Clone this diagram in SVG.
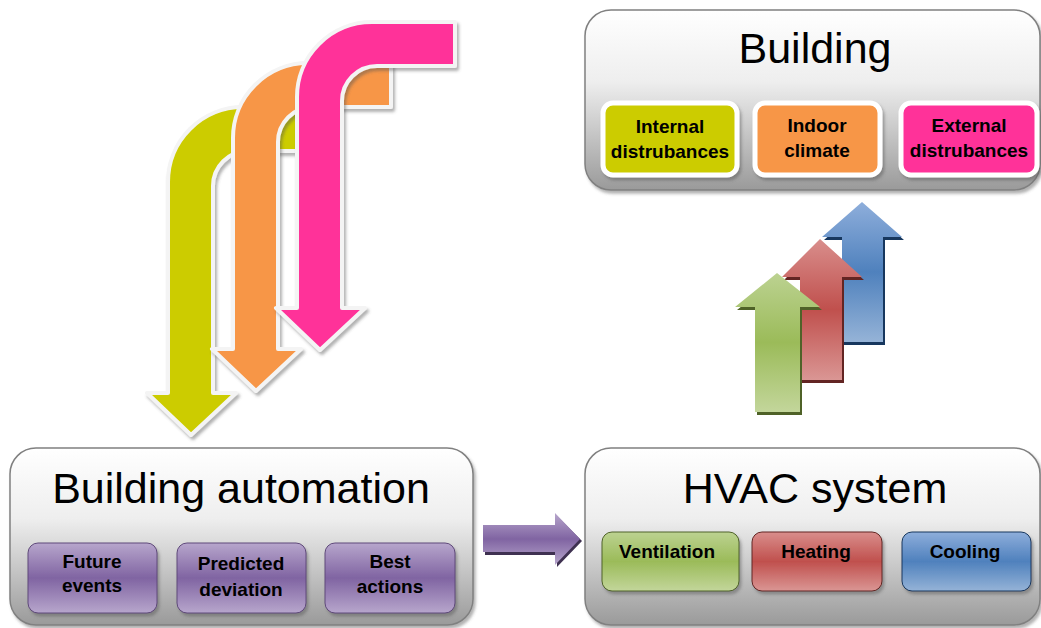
<svg xmlns="http://www.w3.org/2000/svg" width="1041" height="628" viewBox="0 0 1041 628">
  <defs>
    <linearGradient id="panel" x1="0" y1="0" x2="0" y2="1">
      <stop offset="0" stop-color="#ffffff"/>
      <stop offset="0.4" stop-color="#eeeeee"/>
      <stop offset="1" stop-color="#9a9a9a"/>
    </linearGradient>
    <linearGradient id="purple" x1="0" y1="0" x2="0" y2="1">
      <stop offset="0" stop-color="#b7a6cc"/>
      <stop offset="0.5" stop-color="#8064a2"/>
      <stop offset="1" stop-color="#b7a6cc"/>
    </linearGradient>
    <linearGradient id="green" x1="0" y1="0" x2="0" y2="1">
      <stop offset="0" stop-color="#bcd291"/>
      <stop offset="0.5" stop-color="#9bbb59"/>
      <stop offset="1" stop-color="#c3d69b"/>
    </linearGradient>
    <linearGradient id="red" x1="0" y1="0" x2="0" y2="1">
      <stop offset="0" stop-color="#d98e8c"/>
      <stop offset="0.5" stop-color="#c0504d"/>
      <stop offset="1" stop-color="#da9694"/>
    </linearGradient>
    <linearGradient id="blue" x1="0" y1="0" x2="0" y2="1">
      <stop offset="0" stop-color="#8eaedb"/>
      <stop offset="0.5" stop-color="#4f81bd"/>
      <stop offset="1" stop-color="#95b3d7"/>
    </linearGradient>
    <filter id="shadow" x="-10%" y="-10%" width="125%" height="125%">
      <feDropShadow dx="2" dy="3" stdDeviation="1.5" flood-color="#555" flood-opacity="0.45"/>
    </filter>
    <!-- bent arrow: shaft 45 wide, bar 44 thick, head at bottom -->
    <path id="bent" d="M 0,75 A 75 75 0 0 1 75,0 L 158,0 L 158,44 L 80,44 A 35 35 0 0 0 45,79 L 45,286 L 68,286 L 23,328 L -21,286 L 0,286 Z"/>
  </defs>
  <style>
    .panel { fill: url(#panel); stroke: #808080; stroke-width: 1.5; filter: url(#shadow); }
    .chip { stroke: #ffffff; stroke-width: 5; filter: url(#shadow); }
    .tile { stroke-width: 1; filter: url(#shadow); }
    .bent { stroke: #f4f4f4; stroke-width: 4; stroke-linejoin: round; filter: url(#shadow); }
    .title { font-family: "Liberation Sans", Arial, sans-serif; font-size: 43px; fill: #000; text-anchor: middle; }
    .label { font-family: "Liberation Sans", Arial, sans-serif; font-size: 19px; font-weight: bold; fill: #000; text-anchor: middle; }
  </style>

  <!-- input arrows from the building to the automation -->
  <g id="connectors">
    <use href="#bent" class="bent" transform="translate(168,107)" fill="#cccc00"/>
    <use href="#bent" class="bent" transform="translate(233,63)" fill="#f79646"/>
    <use href="#bent" class="bent" transform="translate(297,22)" fill="#ff3399"/>

    <!-- automation to HVAC -->
    <path d="M 485,528 L 557,528 L 557,516 L 582,541 L 557,567 L 557,555 L 485,555 Z" fill="#3f3151"/>
    <path d="M 483,525 L 555,525 L 555,513 L 580,539 L 555,565 L 555,552 L 483,552 Z" fill="url(#purple)"/>

    <!-- HVAC to building -->
    <path d="M 844,240 L 824,240 L 864,205 L 904,240 L 885,240 L 885,345 L 844,345 Z" fill="#17375e"/>
    <path d="M 842,237 L 822,237 L 862,202 L 902,237 L 883,237 L 883,342 L 842,342 Z" fill="url(#blue)"/>
    <path d="M 802,280 L 784,280 L 822,242 L 864,280 L 844,280 L 844,383 L 802,383 Z" fill="#632523"/>
    <path d="M 800,277 L 782,277 L 820,239 L 862,277 L 842,277 L 842,380 L 800,380 Z" fill="url(#red)"/>
    <path d="M 757,310 L 737,310 L 779,276 L 822,310 L 802,310 L 802,415 L 757,415 Z" fill="#4f6228"/>
    <path d="M 755,307 L 735,307 L 777,273 L 820,307 L 800,307 L 800,412 L 755,412 Z" fill="url(#green)"/>
  </g>

  <g id="building">
    <rect class="panel" x="585" y="10" width="455" height="180" rx="26"/>
    <text class="title" x="815" y="63">Building</text>
    <rect class="chip" x="603" y="103" width="134" height="72" rx="10" fill="#cccc00"/>
    <text class="label" x="670" y="133">Internal</text>
    <text class="label" x="670" y="158">distrubances</text>
    <rect class="chip" x="755" y="103" width="125" height="72" rx="10" fill="#f79646"/>
    <text class="label" x="817" y="132">Indoor</text>
    <text class="label" x="817" y="157">climate</text>
    <rect class="chip" x="901" y="103" width="136" height="72" rx="10" fill="#ff3399"/>
    <text class="label" x="969" y="132">External</text>
    <text class="label" x="969" y="157">distrubances</text>
  </g>

  <g id="building-automation">
    <rect class="panel" x="10" y="448" width="463" height="177" rx="26"/>
    <text class="title" x="241" y="503">Building automation</text>
    <rect class="tile" x="28" y="543" width="129" height="70" rx="10" fill="url(#purple)" stroke="#5f497a"/>
    <text class="label" x="92" y="568">Future</text>
    <text class="label" x="92" y="592">events</text>
    <rect class="tile" x="177" y="543" width="129" height="70" rx="10" fill="url(#purple)" stroke="#5f497a"/>
    <text class="label" x="241" y="570">Predicted</text>
    <text class="label" x="241" y="596">deviation</text>
    <rect class="tile" x="325" y="543" width="130" height="70" rx="10" fill="url(#purple)" stroke="#5f497a"/>
    <text class="label" x="390" y="568">Best</text>
    <text class="label" x="390" y="593">actions</text>
  </g>

  <g id="hvac-system">
    <rect class="panel" x="585" y="448" width="455" height="177" rx="26"/>
    <text class="title" x="815" y="503">HVAC system</text>
    <rect class="tile" x="602" y="532" width="137" height="59" rx="10" fill="url(#green)" stroke="#4f6228"/>
    <text class="label" x="667" y="558">Ventilation</text>
    <rect class="tile" x="752" y="532" width="130" height="59" rx="10" fill="url(#red)" stroke="#632523"/>
    <text class="label" x="816" y="558">Heating</text>
    <rect class="tile" x="902" y="532" width="129" height="59" rx="10" fill="url(#blue)" stroke="#17375e"/>
    <text class="label" x="965" y="558">Cooling</text>
  </g>
</svg>
